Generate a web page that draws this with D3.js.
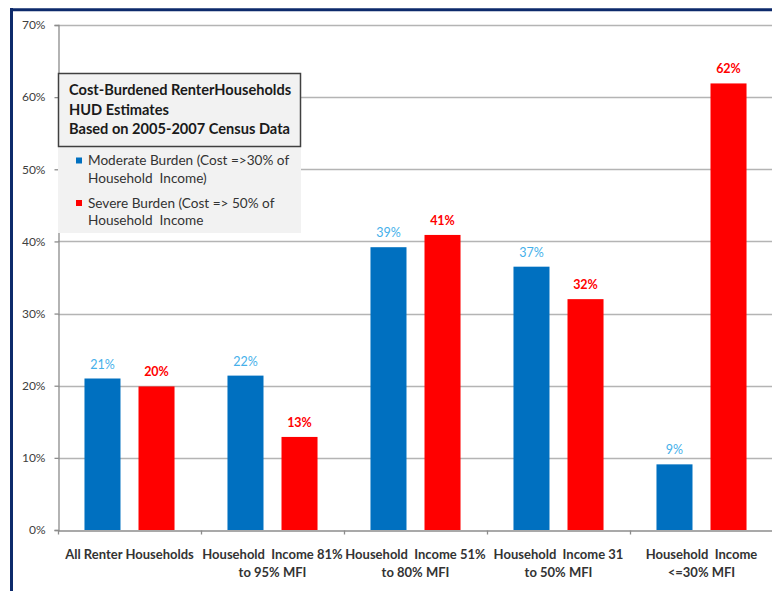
<!DOCTYPE html>
<html>
<head>
<meta charset="utf-8">
<script src="https://cdn.jsdelivr.net/npm/d3@7"></script>
<style>
  html, body { margin: 0; padding: 0; background: #fff; }
  svg { display: block; }
  text { font-family: Lato, "Open Sans", sans-serif; }
</style>
</head>
<body>
<svg id="chart" width="772" height="591"></svg>
<script>
// ---- data ----
const categories = [
  "All Renter Households",
  "Household  Income 81%\nto 95% MFI",
  "Household  Income 51%\nto 80% MFI",
  "Household  Income 31\nto 50% MFI",
  "Household  Income\n<=30% MFI"
];
const seriesNames = ["Moderate Burden (Cost =>30% of\nHousehold  Income)", "Severe Burden (Cost => 50% of\nHousehold  Income"];
const moderate = [0.21, 0.214, 0.392, 0.365, 0.091];
const severe   = [0.199, 0.129, 0.409, 0.32, 0.619];
const moderateLabels = ["21%", "22%", "39%", "37%", "9%"];
const severeLabels   = ["20%", "13%", "41%", "32%", "62%"];
const yTicks = [0, 0.1, 0.2, 0.3, 0.4, 0.5, 0.6, 0.7];
const titleLines = ["Cost-Burdened RenterHouseholds", "HUD Estimates", "Based on 2005-2007 Census Data"];

// ---- layout ----
const svg = d3.select("#chart");
const plot = { left: 58, right: 773, top: 25, bottom: 530 };
const colors = { moderate: "#0070c0", severe: "#ff0000" };
const labelColors = { moderate: "#45b0ea", severe: "#ff0000" };

const y = d3.scaleLinear().domain([0, 0.7]).range([plot.bottom, plot.top]);
const x = d3.scaleBand().domain(categories).range([plot.left, plot.right]).padding(0);
const inner = d3.scaleBand().domain(["moderate", "severe"]).range([0, x.bandwidth()])
  .paddingInner(1/3).paddingOuter(0.49);

// outer frame
svg.append("line").attr("x1", 11.5).attr("x2", 11.5).attr("y1", 8).attr("y2", 591)
  .attr("stroke", "#0d2a6b").attr("stroke-width", 3);
svg.append("line").attr("x1", 10).attr("x2", 772).attr("y1", 9.8).attr("y2", 9.8)
  .attr("stroke", "#0d2a6b").attr("stroke-width", 3);

// gridlines
svg.append("g").selectAll("line").data(yTicks.filter(d => d > 0)).join("line")
  .attr("x1", plot.left).attr("x2", plot.right)
  .attr("y1", d => Math.round(y(d)) + 0.5).attr("y2", d => Math.round(y(d)) + 0.5)
  .attr("stroke", "#b4b4b4").attr("stroke-width", 1.3);

// y axis
const yAxis = d3.axisLeft(y).tickValues(yTicks).tickFormat(d3.format(".0%")).tickSize(4).tickPadding(9);
const gy = svg.append("g").attr("transform", `translate(${plot.left + 0.5},0)`).call(yAxis);
gy.select(".domain").attr("stroke", "#8c8c8c").attr("stroke-width", 1.3);
gy.selectAll(".tick line").attr("stroke", "#8c8c8c").attr("stroke-width", 1.3);
gy.selectAll(".tick text").attr("font-size", 12).attr("fill", "#404040")
  .style("font-family", "Lato, sans-serif");

// x axis
const xAxis = d3.axisBottom(x).tickSize(0).tickFormat("");
const gx = svg.append("g").attr("transform", `translate(0,${plot.bottom + 0.5})`).call(xAxis);
gx.select(".domain").attr("stroke", "#8c8c8c").attr("stroke-width", 1.3);
gx.selectAll(".tick").remove();
gx.selectAll(".sep").data(categories).join("line").attr("class", "sep")
  .attr("x1", d => x(d) + 0.5).attr("x2", d => x(d) + 0.5).attr("y1", 0).attr("y2", 4)
  .attr("stroke", "#8c8c8c").attr("stroke-width", 1.3);

// category labels
const catG = svg.append("g");
categories.forEach(c => {
  const t = catG.append("text").attr("x", x(c) + x.bandwidth() / 2).attr("y", 558.5)
    .attr("text-anchor", "middle").attr("font-size", 13).attr("font-weight", "bold").attr("fill", "#333")
    .style("white-space", "pre").attr("xml:space", "preserve");
  c.split("\n").forEach((ln, i) => {
    t.append("tspan").attr("x", x(c) + x.bandwidth() / 2).attr("dy", i === 0 ? 0 : 18).text(ln);
  });
});

// bars
["moderate", "severe"].forEach(s => {
  const vals = s === "moderate" ? moderate : severe;
  const labs = s === "moderate" ? moderateLabels : severeLabels;
  svg.append("g").selectAll("rect").data(categories).join("rect")
    .attr("x", (c) => x(c) + inner(s))
    .attr("width", inner.bandwidth())
    .attr("y", (c, i) => y(vals[i]))
    .attr("height", (c, i) => y(0) - y(vals[i]))
    .attr("fill", colors[s]);
  svg.append("g").selectAll("text").data(categories).join("text")
    .attr("x", (c) => x(c) + inner(s) + inner.bandwidth() / 2)
    .attr("y", (c, i) => y(vals[i]) - 10)
    .attr("text-anchor", "middle").attr("font-size", 12.5)
    .attr("font-weight", s === "severe" ? "bold" : "normal")
    .attr("fill", labelColors[s])
    .text((c, i) => labs[i]);
});

// legend panel
const lg = svg.append("g");
lg.append("rect").attr("x", 58).attr("y", 146).attr("width", 243).attr("height", 87).attr("fill", "#f2f2f2");
lg.append("rect").attr("x", 58.5).attr("y", 73.5).attr("width", 242).attr("height", 73)
  .attr("fill", "#f2f2f2").attr("stroke", "#404040").attr("stroke-width", 1.5);
titleLines.forEach((ln, i) => {
  lg.append("text").attr("x", 69).attr("y", 95 + i * 19.5).attr("font-size", 14.6).attr("font-weight", "bold")
    .attr("fill", "#1a1a1a").text(ln);
});
const legKeys = ["moderate", "severe"];
legKeys.forEach((k, i) => {
  const y0 = 160.5 + i * 42.5;
  lg.append("rect").attr("x", 76).attr("y", y0 - 3).attr("width", 6).attr("height", 6).attr("fill", colors[k]);
  const t = lg.append("text").attr("x", 88).attr("y", y0 + 4.5).attr("font-size", 13.6).attr("fill", "#333")
    .attr("xml:space", "preserve").style("white-space", "pre");
  seriesNames[i].split("\n").forEach((ln, j) => {
    t.append("tspan").attr("x", 88).attr("dy", j === 0 ? 0 : 17.5).text(ln);
  });
});
</script>
</body>
</html>
